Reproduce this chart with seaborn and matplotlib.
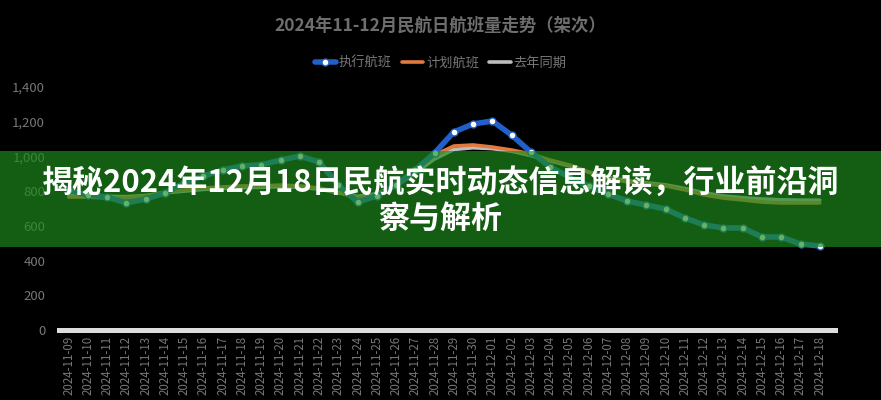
import numpy as np
import pandas as pd
import matplotlib
matplotlib.use('Agg')
import matplotlib.pyplot as plt
from matplotlib.patches import Rectangle
import seaborn as sns

# ---- data ----
dates = pd.date_range('2024-11-09', '2024-12-18').strftime('%Y-%m-%d').tolist()

executed = [805, 778, 766, 732, 755, 789, 847, 887, 922, 945,
            951, 979, 1002, 968, 835, 737, 772, 835, 922, 1020,
            1141, 1187, 1204, 1123, 1025, 939, 881, 830, 783, 743,
            720, 697, 645, 605, 588, 588, 536, 536, 495, 484]

planned = [766, 766, 760, 760, 772, 795, 807, 818, 824, 830,
           830, 835, 830, 818, 795, 760, 783, 835, 922, 1008,
           1060, 1066, 1054, 1037, 1014, 979, 951, 910, 876, 853,
           841, 830, 807, 778, 760, 749, 737, 732, 732, 732]

last_year = [780, 775, 770, 768, 775, 790, 800, 810, 815, 820,
             822, 826, 822, 812, 790, 770, 785, 830, 905, 985,
             1040, 1050, 1045, 1030, 1005, 975, 945, 910, 880, 860,
             848, 836, 815, 790, 772, 762, 755, 750, 748, 748]

series_names = ['执行航班', '计划航班', '去年同期']
y_ticks = [0, 200, 400, 600, 800, 1000, 1200, 1400]

chart_title = '2024年11-12月民航日航班量走势（架次）'
banner_title = '揭秘2024年12月18日民航实时动态信息解读，行业前沿洞\n察与解析'

# ---- style ----
sns.set_style('dark')
plt.rcParams['font.family'] = ['Noto Sans CJK SC', 'DejaVu Sans']

fig = plt.figure(figsize=(8.81, 4.0), dpi=100)
fig.patch.set_facecolor('black')
ax = fig.add_axes([0.067, 0.175, 0.881, 0.6075])
ax.set_facecolor('black')

x = np.arange(len(dates))
sns.lineplot(x=x, y=last_year, ax=ax, color='#bdbdbd', linewidth=2.6,
             label=series_names[2], zorder=2)
sns.lineplot(x=x, y=planned, ax=ax, color='#e07a3e', linewidth=2.6,
             label=series_names[1], zorder=3)
sns.lineplot(x=x, y=executed, ax=ax, color='#2060c8', linewidth=4,
             marker='o', markersize=5, markerfacecolor='white',
             markeredgecolor='#2060c8', markeredgewidth=1,
             label=series_names[0], zorder=4)

ax.set_xlim(-0.5, len(dates) - 0.2)
ax.set_ylim(0, 1400)
ax.set_yticks(y_ticks)
ax.set_yticklabels([f'{v:,}' for v in y_ticks])
ax.set_xticks(x)
ax.set_xticklabels(dates, rotation=90)
ax.tick_params(axis='both', length=0, colors='#777777', labelsize=9.5)
ax.tick_params(axis='x', pad=4, labelsize=8.3)
ax.tick_params(axis='y', pad=10)
ax.grid(False)
for side in ['top', 'right', 'left']:
    ax.spines[side].set_visible(False)
ax.spines['bottom'].set_color('#dddddd')
ax.spines['bottom'].set_linewidth(3.6)
ax.set_xlabel('')
ax.set_ylabel('')

# legend order: executed, planned, last year
handles, labels = ax.get_legend_handles_labels()
order = [labels.index(n) for n in series_names]
ax.legend([handles[i] for i in order], [labels[i] for i in order],
          loc='center', bbox_to_anchor=(0.5, 0.843),
          bbox_transform=fig.transFigure, ncol=3, frameon=False,
          handlelength=1.6, columnspacing=0.8, handletextpad=0.2,
          fontsize=9.5, labelcolor='#777777')

fig.text(0.5, 0.935, chart_title, ha='center', va='center',
         fontsize=12.5, fontweight='bold', color='#6e6e6e')

# green banner with the article headline over the chart
fig.add_artist(Rectangle((0, 0.3825), 1, 0.24, transform=fig.transFigure,
                         facecolor='#1d8c1d', alpha=0.68, edgecolor='none',
                         zorder=10))
fig.text(0.5, 1 - 201 / 400, banner_title, ha='center', va='center',
         fontsize=22.3, fontweight='bold', color='white', linespacing=1.12,
         zorder=11)

fig.savefig('out.png', dpi=100, facecolor='black')
